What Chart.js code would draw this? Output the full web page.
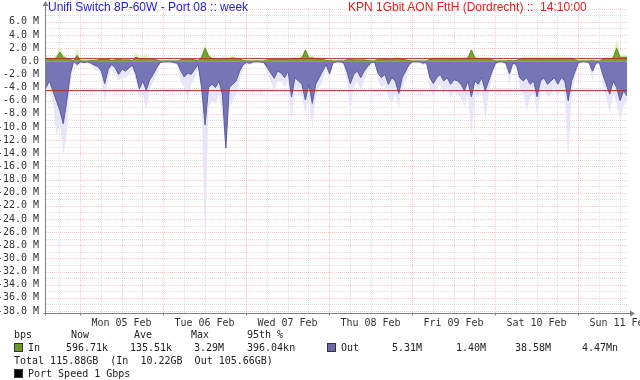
<!DOCTYPE html>
<html>
<head>
<meta charset="utf-8">
<script src="https://cdn.jsdelivr.net/npm/chart.js@4/dist/chart.umd.min.js"></script>
<style>
  html, body { margin:0; padding:0; background:#fff; }
  #wrap { position:relative; width:640px; height:380px; overflow:hidden; background:#fff; }
  #c { position:absolute; left:0; top:0; }
  .t { position:absolute; white-space:pre; font-family:"Liberation Sans", Arial, sans-serif; font-size:12px; line-height:14px; }
  .m { position:absolute; white-space:pre; font-family:"DejaVu Sans Mono", monospace; font-size:10px; line-height:12px; color:#222; }
  .sq { position:absolute; width:7px; height:7px; border:1px solid #333; }
</style>
</head>
<body>
<div id="wrap">
  <canvas id="c" width="640" height="380"></canvas>
  <div class="t" style="left:48px;top:0px;color:#1c1cf0;">Unifi Switch 8P-60W - Port 08 :: week</div>
  <div class="t" style="left:348px;top:0px;color:#ee1c1c;">KPN 1Gbit AON FttH (Dordrecht) ::  14:10:00</div>

  <div class="m" style="left:14px;top:329px;">bps</div>
  <div class="m" style="left:71px;top:329px;">Now</div>
  <div class="m" style="left:134px;top:329px;">Ave</div>
  <div class="m" style="left:191px;top:329px;">Max</div>
  <div class="m" style="left:247px;top:329px;">95th %</div>

  <div class="sq" style="left:14px;top:343px;background:#6b9a2c;"></div>
  <div class="m" style="left:28px;top:342px;">In</div>
  <div class="m" style="left:66px;top:342px;">596.71k</div>
  <div class="m" style="left:130px;top:342px;">135.51k</div>
  <div class="m" style="left:194px;top:342px;">3.29M</div>
  <div class="m" style="left:247px;top:342px;">396.04kn</div>
  <div class="sq" style="left:327px;top:343px;background:#6a6aaa;"></div>
  <div class="m" style="left:341px;top:342px;">Out</div>
  <div class="m" style="left:392px;top:342px;">5.31M</div>
  <div class="m" style="left:456px;top:342px;">1.40M</div>
  <div class="m" style="left:515px;top:342px;">38.58M</div>
  <div class="m" style="left:582px;top:342px;">4.47Mn</div>

  <div class="m" style="left:14px;top:355px;">Total 115.88GB  (In  10.22GB  Out 105.66GB)</div>
  <div class="sq" style="left:14px;top:369px;background:#000;"></div>
  <div class="m" style="left:28px;top:368px;">Port Speed 1 Gbps</div>
</div>
<script>
// ---- data (Mbps), hourly samples from graph start (Sun 04 Feb ~14:10) ----
const outAvg = [
  4.0,3.0,4.5,6.0,7.5,9.5,6.0,2.0,0.0,0.5,
  0.1,0.2,0.1,0.3,0.6,0.8,1.5,3.4,1.2,0.5,
  1.0,2.0,1.2,1.5,1.0,0.6,2.0,4.2,3.0,4.4,
  2.8,2.0,1.0,0.2,0.1,0.1,0.1,0.2,0.3,1.5,
  2.4,1.8,2.0,1.2,0.5,4.0,9.7,4.0,3.5,4.0,
  3.0,5.0,13.2,4.0,3.5,3.0,1.5,0.5,0.2,0.3,
  0.1,0.1,0.1,0.2,1.0,1.8,2.6,1.5,1.8,2.5,
  1.5,5.4,2.5,3.0,3.5,5.9,3.5,6.4,3.5,2.5,
  1.5,0.5,1.9,0.2,0.1,0.1,0.2,1.5,3.4,2.0,
  1.5,2.5,1.5,0.8,0.2,0.1,1.8,2.5,2.0,3.5,
  2.5,3.0,4.9,2.5,1.5,0.5,0.1,0.1,0.1,0.3,
  0.2,2.5,3.4,2.5,2.0,3.0,2.5,3.5,2.8,3.0,
  3.5,4.5,3.0,5.4,3.0,3.5,2.5,4.5,3.0,1.5,
  0.3,0.1,0.1,0.3,1.9,0.3,0.5,2.5,3.0,2.5,
  3.5,3.0,5.4,3.0,2.5,3.5,3.0,2.5,3.5,2.5,
  3.0,6.0,3.0,1.5,0.2,0.1,0.1,0.2,1.5,0.3,
  0.2,2.0,3.5,5.0,3.0,4.0,6.0,4.5,5.3
];
const outMax = [
  5.0,4.5,6.0,11.5,9.0,14.4,11.0,4.0,0.5,1.0,
  0.3,0.4,0.3,0.6,1.2,1.5,2.5,6.2,2.5,1.2,
  2.0,3.0,2.5,2.5,2.0,1.2,3.0,5.5,5.0,7.4,
  4.5,3.0,2.0,0.4,0.2,0.2,0.2,0.4,0.6,3.0,
  4.0,5.9,3.5,2.5,1.0,6.0,28.0,7.0,6.0,6.5,
  5.0,8.0,14.5,7.0,6.0,5.0,3.0,1.0,0.4,0.6,
  0.2,0.2,0.2,0.4,2.0,3.0,4.5,3.0,3.0,4.0,
  3.0,9.4,4.0,5.0,5.5,8.0,5.5,10.0,5.5,4.0,
  3.0,1.0,3.0,0.4,0.2,0.2,0.4,3.0,7.9,4.0,
  3.0,4.5,3.0,1.5,0.4,0.2,3.0,4.0,3.5,5.5,
  6.3,5.0,7.0,4.0,3.0,1.0,0.2,0.2,0.2,0.6,
  0.4,4.0,5.5,4.0,3.5,5.0,4.0,5.5,4.5,5.0,
  5.5,7.0,5.0,11.2,5.0,5.5,4.0,9.0,5.0,2.5,
  0.6,0.2,0.2,0.6,3.5,0.6,1.0,4.0,5.0,7.7,
  5.5,5.0,8.0,5.0,4.0,5.5,5.0,4.0,5.5,4.0,
  5.0,15.0,5.0,2.5,0.4,0.2,0.2,0.4,3.0,0.6,
  0.4,3.5,5.5,8.0,5.0,6.5,9.0,7.0,6.0
];
const inAvg = [
  0.4,0.4,0.3,0.5,1.4,0.6,0.4,0.3,0.05,0.9,
  0.05,0.05,0.05,0.1,0.1,0.2,0.3,0.3,0.3,0.1,
  0.2,0.3,0.2,0.2,0.2,0.1,0.6,0.4,0.4,0.4,
  0.3,0.3,0.2,0.05,0.05,0.05,0.05,0.05,0.05,0.2,
  0.3,0.3,0.3,0.2,0.1,0.6,2.0,0.8,0.4,0.4,
  0.3,0.4,0.4,0.4,0.5,0.4,0.3,0.1,0.05,0.05,
  0.05,0.05,0.05,0.05,0.2,0.3,0.3,0.3,0.3,0.3,
  0.3,0.4,0.4,0.4,0.5,1.7,0.5,0.5,0.4,0.4,
  0.3,0.1,0.1,0.05,0.05,0.05,0.05,0.2,0.3,0.2,
  0.2,0.2,0.2,0.1,0.05,0.05,0.3,0.3,0.3,0.3,
  0.3,0.4,0.4,0.3,0.2,0.1,0.05,0.05,0.05,0.05,
  0.05,0.3,0.4,0.4,0.4,0.4,0.4,0.4,0.4,0.4,
  0.4,0.4,0.5,1.7,0.5,0.4,0.4,0.4,0.4,0.2,
  0.05,0.05,0.05,0.05,0.1,0.05,0.1,0.3,0.4,0.4,
  0.4,0.4,0.4,0.4,0.4,0.4,0.4,0.4,0.4,0.4,
  0.4,0.4,0.4,0.2,0.05,0.05,0.05,0.05,0.1,0.05,
  0.05,0.3,0.4,0.4,0.5,2.0,0.6,0.6,0.6
];
const inMax = [
  0.8,0.7,0.6,0.9,2.2,1.0,0.7,0.5,0.1,2.1,
  0.1,0.1,0.1,0.2,0.2,0.4,0.5,0.5,0.5,0.2,
  0.4,0.5,0.4,0.4,0.4,0.2,1.4,0.7,0.7,1.3,
  0.5,0.5,0.4,0.1,0.1,0.1,0.1,0.1,0.1,0.4,
  0.5,0.5,0.5,0.4,0.2,1.0,2.6,1.2,0.7,0.7,
  0.5,0.7,0.7,0.7,0.8,0.7,0.5,0.2,0.1,0.1,
  0.1,0.1,0.1,0.1,0.4,0.5,0.5,0.5,0.5,0.5,
  0.5,0.7,0.7,0.7,0.8,2.0,0.8,0.8,0.7,0.7,
  0.5,0.2,0.2,0.1,0.1,0.1,0.1,0.4,0.5,0.4,
  0.4,0.4,0.4,0.2,0.1,0.1,0.5,0.5,0.5,0.5,
  0.5,0.7,0.7,0.5,0.4,0.2,0.1,0.1,0.1,0.1,
  0.1,0.5,0.7,0.7,0.7,0.7,0.7,0.7,0.7,0.7,
  0.7,0.7,0.8,2.0,0.8,0.7,0.7,0.7,0.7,0.4,
  0.1,0.1,0.1,0.1,0.2,0.1,0.2,0.5,0.7,0.7,
  0.7,0.7,0.7,0.7,0.7,0.7,0.7,0.7,0.7,0.7,
  0.7,0.7,0.7,0.4,0.1,0.1,0.1,0.1,0.2,0.1,
  0.1,0.5,0.7,0.7,0.8,3.3,1.0,1.0,0.9
];
const in95th = 0.39604;   // M
const out95th = 4.47;     // M
const xTickLabels = ['Mon 05 Feb','Tue 06 Feb','Wed 07 Feb','Thu 08 Feb','Fri 09 Feb','Sat 10 Feb','Sun 11 Feb'];
const yTickValues = [-38,-36,-34,-32,-30,-28,-26,-24,-22,-20,-18,-16,-14,-12,-10,-8,-6,-4,-2,0,2,4,6];
const yTickLabels = ['-38.0 M','-36.0 M','-34.0 M','-32.0 M','-30.0 M','-28.0 M','-26.0 M','-24.0 M','-22.0 M','-20.0 M','-18.0 M','-16.0 M','-14.0 M','-12.0 M','-10.0 M','-8.0 M','-6.0 M','-4.0 M','-2.0 M','0.0','2.0 M','4.0 M','6.0 M'];

// ---- time layout ----
const SPAN_H = 168;               // one week in hours
const FIRST_MIDNIGHT = 9 + 50/60; // Mon 00:00 relative to graph start
const xTickPos = xTickLabels.map((_, i) => FIRST_MIDNIGHT + 12 + 24 * i);

const pts = (arr, sign) => arr.map((v, i) => ({ x: i, y: sign * v }));

const MAJOR = 'rgba(255,110,110,0.38)';
const MINOR = 'rgba(150,150,150,0.28)';

const gridPlugin = {
  id: 'rrdGrid',
  beforeDatasetsDraw(chart) {
    const { ctx, chartArea: a, scales: { x, y } } = chart;
    ctx.save();
    ctx.lineWidth = 1;
    ctx.setLineDash([1, 1]);
    for (let v = -38; v <= 8; v++) {
      const py = Math.round(y.getPixelForValue(v)) + 0.5;
      if (py < a.top || py > a.bottom) continue;
      ctx.strokeStyle = (v % 2 === 0) ? MAJOR : MINOR;
      ctx.beginPath(); ctx.moveTo(a.left, py); ctx.lineTo(a.right, py); ctx.stroke();
    }
    for (let h = FIRST_MIDNIGHT - 6, k = -1; h <= SPAN_H; h += 6, k++) {
      const px = Math.round(x.getPixelForValue(h)) + 0.5;
      if (px <= a.left || px > a.right) continue;
      const major = k >= 0 && k % 4 === 0;
      ctx.strokeStyle = major ? MAJOR : MINOR;
      ctx.beginPath(); ctx.moveTo(px, a.top); ctx.lineTo(px, a.bottom); ctx.stroke();
    }
    ctx.restore();
  },
  afterDatasetsDraw(chart) {
    const { ctx, chartArea: a, scales: { x } } = chart;
    ctx.save();
    ctx.setLineDash([]);
    ctx.strokeStyle = '#808080';
    ctx.fillStyle = '#808080';
    ctx.lineWidth = 1;
    const lx = Math.round(a.left) - 0.5, by = Math.round(a.bottom) + 0.5;
    ctx.beginPath(); ctx.moveTo(lx, by + 2); ctx.lineTo(lx, a.top - 3); ctx.stroke();
    ctx.beginPath(); ctx.moveTo(lx - 3, a.top - 2); ctx.lineTo(lx + 3, a.top - 2); ctx.lineTo(lx, a.top - 7); ctx.closePath(); ctx.fill();
    ctx.beginPath(); ctx.moveTo(lx - 2, by); ctx.lineTo(a.right + 4, by); ctx.stroke();
    ctx.beginPath(); ctx.moveTo(a.right + 3, by - 3); ctx.lineTo(a.right + 3, by + 3); ctx.lineTo(a.right + 8, by); ctx.closePath(); ctx.fill();
    for (let h = FIRST_MIDNIGHT; h <= SPAN_H; h += 24) {
      const px = Math.round(x.getPixelForValue(h)) + 0.5;
      ctx.beginPath(); ctx.moveTo(px, by); ctx.lineTo(px, by + 2); ctx.stroke();
    }
    ctx.restore();
  }
};

new Chart(document.getElementById('c'), {
  type: 'line',
  data: {
    datasets: [
      { data: [{x:0,y:in95th},{x:SPAN_H,y:in95th}], borderColor:'#c0282a', borderWidth:1, fill:false, pointRadius:0 },
      { data: [{x:0,y:-out95th},{x:SPAN_H,y:-out95th}], borderColor:'#b0282a', borderWidth:1, fill:false, pointRadius:0 },
      { data: pts(inAvg, 1), backgroundColor:'#78a434', borderColor:'#5f8c22', borderWidth:1, fill:'origin', pointRadius:0 },
      { data: pts(outAvg, -1), backgroundColor:'#7676b6', borderColor:'#5c5ca0', borderWidth:1, fill:'origin', pointRadius:0 },
      { data: pts(inMax, 1), backgroundColor:'#dcf0c0', borderColor:'#dcf0c0', borderWidth:0, fill:'origin', pointRadius:0 },
      { data: pts(outMax, -1), backgroundColor:'#e6e6f8', borderColor:'#e6e6f8', borderWidth:0, fill:'origin', pointRadius:0 }
    ]
  },
  options: {
    responsive: false,
    animation: false,
    devicePixelRatio: 1,
    layout: { padding: { left: 0, right: 13, top: 8, bottom: 47 } },
    plugins: { legend: { display:false }, tooltip: { enabled:false }, title: { display:false } },
    elements: { line: { tension: 0 } },
    scales: {
      x: {
        type: 'linear', min: 0, max: SPAN_H,
        afterBuildTicks: s => { s.ticks = xTickPos.map(v => ({ value: v })); },
        ticks: { callback: (v, i) => xTickLabels[i], autoSkip:false, maxRotation:0, padding:4,
                 font: { family:'DejaVu Sans Mono', size:10 }, color:'#333' },
        grid: { display:false, drawTicks:false },
        border: { display:false },
        afterFit: s => { s.height = 20; s.paddingLeft = 0; s.paddingRight = 0; }
      },
      y: {
        min: -38.3, max: 8.1,
        afterBuildTicks: s => { s.ticks = yTickValues.map(v => ({ value: v })); },
        ticks: { callback: (v, i) => yTickLabels[i], padding:7, autoSkip:false,
                 font: { family:'DejaVu Sans Mono', size:10 }, color:'#333' },
        grid: { display:false, drawTicks:false },
        border: { display:false },
        afterFit: s => { s.width = 46; s.paddingTop = 0; s.paddingBottom = 0; }
      }
    }
  },
  plugins: [gridPlugin]
});
</script>
</body>
</html>
